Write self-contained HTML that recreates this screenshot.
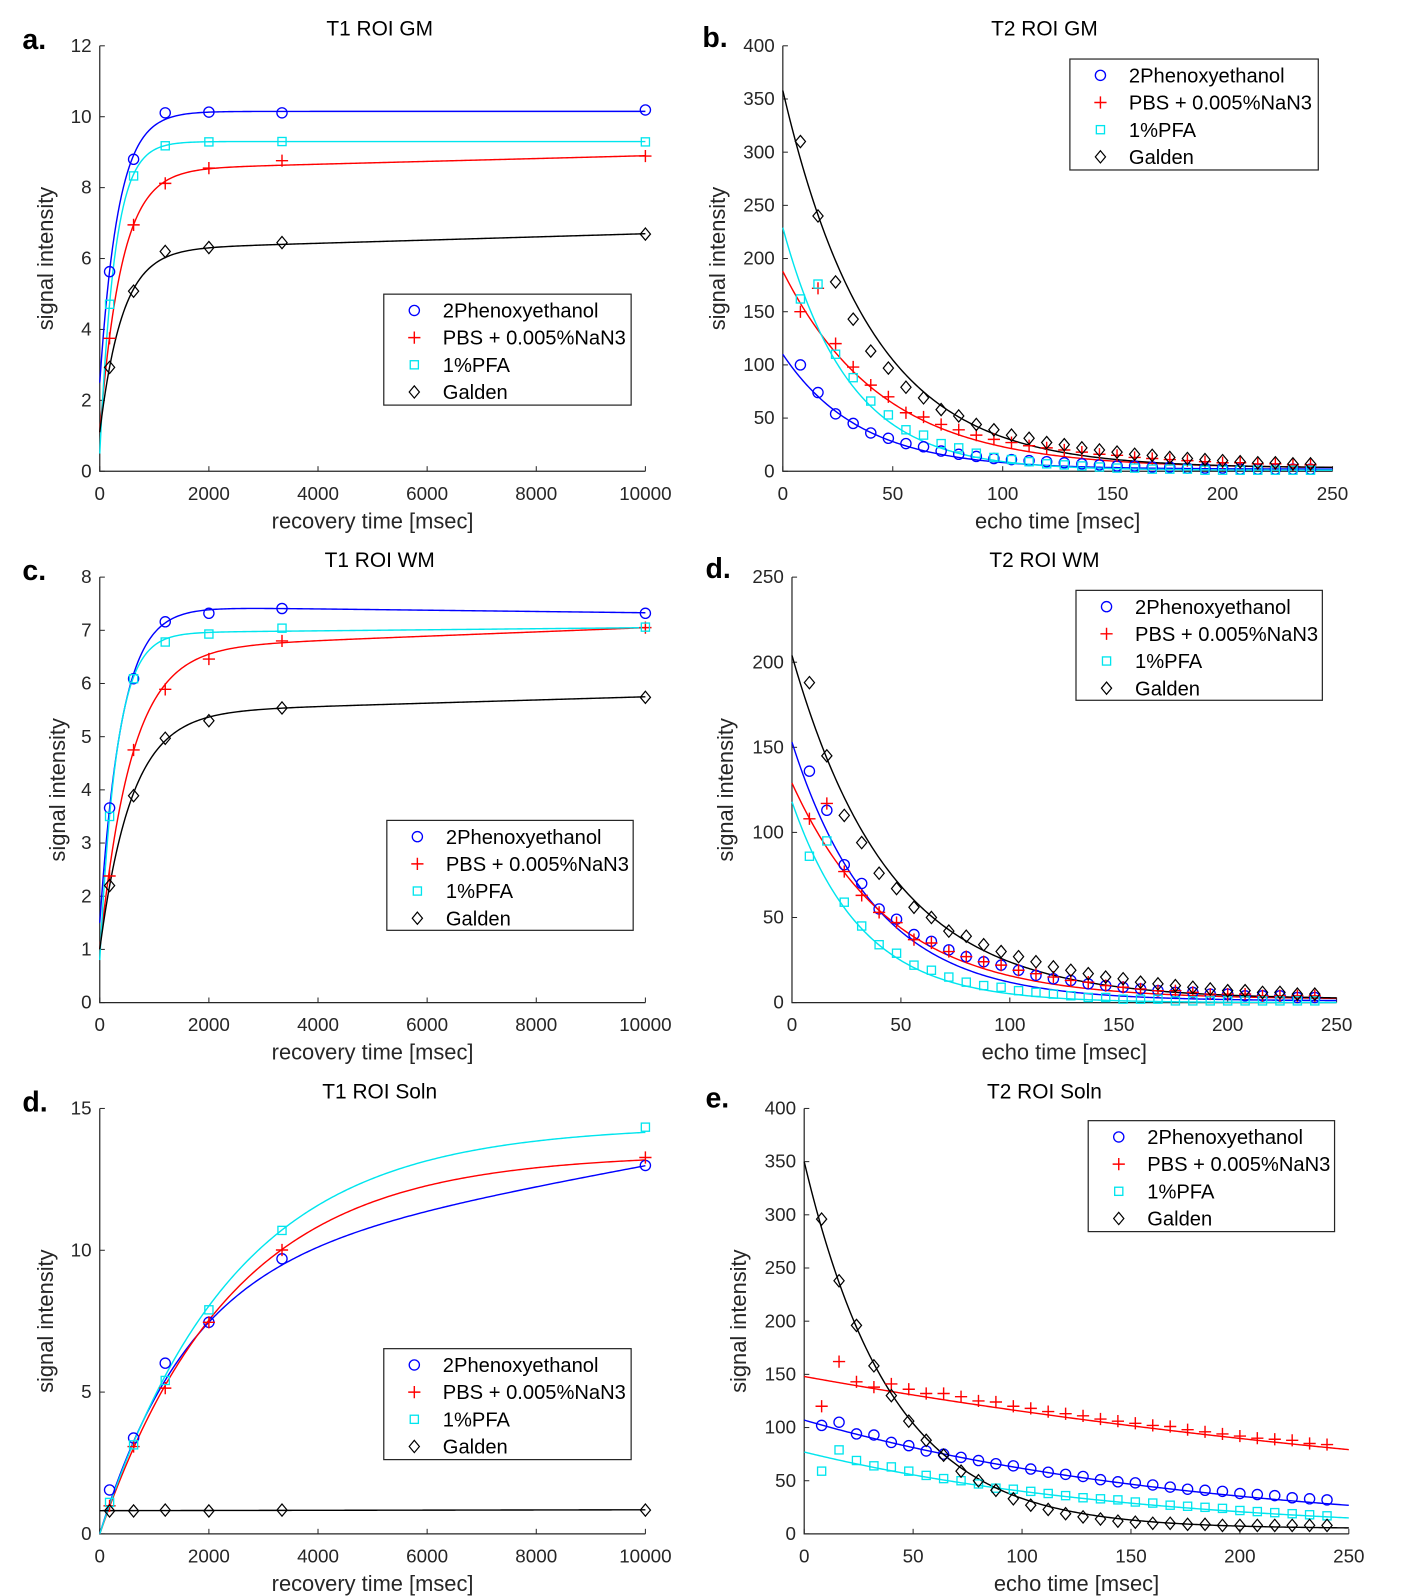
<!DOCTYPE html>
<html><head><meta charset="utf-8">
<style>
html,body{margin:0;padding:0;background:#fff;}
svg{display:block;}
text{font-family:"Liberation Sans",Arial,sans-serif;fill:#262626;}
.ttl{font-size:20.5px;fill:#000;}
.lab{font-size:21.5px;}
.tk{font-size:18.5px;}
.lg{font-size:19.8px;fill:#000;}
.pl{font-size:28px;font-weight:bold;fill:#000;}
</style></head>
<body>
<svg id="fig" xmlns="http://www.w3.org/2000/svg" width="1416" height="1596" viewBox="0 0 1391 1568" preserveAspectRatio="none"></svg>
<script>
// ===== data =====
const seriesNames = ["2Phenoxyethanol","PBS + 0.005%NaN3","1%PFA","Galden"];
const recoveryTimes = [180,620,1200,2000,3340,10000];
const echoTimes = [8,16,24,32,40,48,56,64,72,80,88,96,104,112,120,128,136,144,152,160,168,176,184,192,200,208,216,224,232,240];

const gmT1Blue  = [5.63,8.80,10.11,10.13,10.11,10.19];
const gmT1Red   = [3.75,6.95,8.12,8.55,8.76,8.89];
const gmT1Cyan  = [4.71,8.33,9.18,9.29,9.30,9.29];
const gmT1Black = [2.93,5.08,6.20,6.31,6.45,6.69];

const wmT1Blue  = [3.66,6.09,7.16,7.32,7.41,7.32];
const wmT1Red   = [2.38,4.75,5.89,6.46,6.80,7.05];
const wmT1Cyan  = [3.50,6.09,6.78,6.93,7.04,7.06];
const wmT1Black = [2.20,3.89,4.97,5.30,5.54,5.74];

const solnT1Blue  = [1.55,3.38,6.02,7.46,9.70,12.99];
const solnT1Red   = [0.99,3.08,5.14,7.46,10.01,13.27];
const solnT1Cyan  = [1.11,3.14,5.41,7.90,10.70,14.34];
const solnT1Black = [0.81,0.81,0.84,0.81,0.84,0.84];

const gmT2Blue  = [100,74,54,45,36,31,26,23,19,16,14,12,11,10,9,8,7,6,5,5,4,4,3,3,3,2,2,2,2,2];
const gmT2Red   = [150,172,120,98,81,70,55,51,44,39,34,30,27,24,22,20,18,16,15,13,12,11,10,9,8,8,7,7,6,6];
const gmT2Cyan  = [162,176,110,88,66,53,39,34,26,22,17,13,11,9,7,6,5,4,3,3,2,2,2,1,1,1,1,1,1,1];
const gmT2Black = [310,240,178,143,113,97,79,69,58,52,44,39,34,31,27,25,22,20,18,16,15,13,12,11,10,9,8,8,7,7];

const wmT2Blue  = [136,113,81,70,55,49,40,36,31,27,24,22,19,16,14,13,11,10,9,8,7,6,6,5,5,4,4,4,3,3];
const wmT2Red   = [108,117,77,63,53,47,37,35,30,27,24,22,19,17,15,13,12,10,9,8,7,7,6,5,5,5,4,4,4,4];
const wmT2Cyan  = [86,95,59,45,34,29,22,19,15,12,10,9,7,6,5,4,3,3,2,2,2,1,1,1,1,1,1,1,1,1];
const wmT2Black = [188,145,110,94,76,67,56,50,42,39,34,30,27,24,21,19,17,15,14,12,11,10,9,8,7,7,6,6,5,5];

const solnT2Blue  = [102,105,94,93,86,83,78,75,72,69,66,64,61,58,56,54,51,49,48,46,44,42,41,40,38,37,36,34,33,32];
const solnT2Red   = [120,162,143,138,141,136,132,132,129,125,124,120,118,115,113,111,108,106,104,102,101,98,96,94,92,90,89,88,85,84];
const solnT2Cyan  = [59,79,69,64,63,59,55,52,50,47,43,42,40,38,36,34,33,32,30,29,27,26,25,24,22,21,20,19,18,17];
const solnT2Black = [296,238,196,158,130,106,88,74,59,50,41,33,27,23,19,16,14,12,11,10,10,9,9,8,8,8,8,8,8,8];

// fit parameters T1: [A, B, T1, slope]  S = A - B*exp(-t/T1) + slope*t
const gmT1Fit   = [[10.15,7.65,340,0],[8.5,7.4,400,0.00004],[9.3,8.8,275,0],[6.25,5.15,410,0.000045]];
const wmT1Fit   = [[7.45,5.95,400,-0.000012],[6.65,5.65,580,0.00004],[6.95,6.15,310,0.00001],[5.45,4.45,580,0.00003]];
const solnT1Fit = [[9.5,9.5,1607,0.00035],[13.4,13.4,2420,0],[14.4,14.4,2450,0],[0.82,0,1000,0.000003]];
// fit parameters T2: [A, T2, offset]  S = A*exp(-t/T2) + offset
const gmT2Fit   = [[108,35,2],[185,45,3],[228,30,1],[355,40,3]];
const wmT2Fit   = [[152,38,1],[127,45,2],[118,32,0],[202,45,2]];
const solnT2Fit = [[107,181,0],[148,400,0],[77,153,0],[345,40,5]];

const t1XTicks = [0,2000,4000,6000,8000,10000];
const t2XTicks = [0,50,100,150,200,250];
const gmT1YTicks = [0,2,4,6,8,10,12];
const wmT1YTicks = [0,1,2,3,4,5,6,7,8];
const solnT1YTicks = [0,5,10,15];
const t2YTicks400 = [0,50,100,150,200,250,300,350,400];
const t2YTicks250 = [0,50,100,150,200,250];

// ===== layout =====
const colors = ["#0000ff","#ff0000","#00e5ee","#000000"];
const markers = ["circle","plus","square","diamond"];
const NS = "http://www.w3.org/2000/svg";
const svg = document.getElementById("fig");
function el(tag, attrs, parent){
  const e = document.createElementNS(NS, tag);
  for (const k in attrs) e.setAttribute(k, attrs[k]);
  (parent||svg).appendChild(e);
  return e;
}
function txt(s, attrs, parent){ const e = el("text", attrs, parent); e.textContent = s; return e; }

const panels = [
 {id:"t1-gm", letter:"a.", lx:22, ly:48, title:"T1 ROI GM", tx:373, ty:35, L:98,R:634,T:45,B:463, xmax:10000, ymax:12, xt:t1XTicks, yt:gmT1YTicks, xs:recoveryTimes, data:[gmT1Blue,gmT1Red,gmT1Cyan,gmT1Black], fit:gmT1Fit, kind:1, xlabel:"recovery time [msec]", ylx:52, leg:[377,289,243,109]},
 {id:"t2-gm", letter:"b.", lx:690, ly:46, title:"T2 ROI GM", tx:1026, ty:35, L:769,R:1309,T:45,B:463, xmax:250, ymax:400, xt:t2XTicks, yt:t2YTicks400, xs:echoTimes, data:[gmT2Blue,gmT2Red,gmT2Cyan,gmT2Black], fit:gmT2Fit, kind:2, xlabel:"echo time [msec]", ylx:712, leg:[1051,58,244,109]},
 {id:"t1-wm", letter:"c.", lx:22, ly:570, title:"T1 ROI WM", tx:373, ty:557, L:98,R:634,T:567,B:985, xmax:10000, ymax:8, xt:t1XTicks, yt:wmT1YTicks, xs:recoveryTimes, data:[wmT1Blue,wmT1Red,wmT1Cyan,wmT1Black], fit:wmT1Fit, kind:1, xlabel:"recovery time [msec]", ylx:64, leg:[380,806,242,108]},
 {id:"t2-wm", letter:"d.", lx:693, ly:568, title:"T2 ROI WM", tx:1026, ty:557, L:778,R:1313,T:567,B:985, xmax:250, ymax:250, xt:t2XTicks, yt:t2YTicks250, xs:echoTimes, data:[wmT2Blue,wmT2Red,wmT2Cyan,wmT2Black], fit:wmT2Fit, kind:2, xlabel:"echo time [msec]", ylx:720, leg:[1057,580,242,108]},
 {id:"t1-soln", letter:"d.", lx:22, ly:1092, title:"T1 ROI Soln", tx:373, ty:1079, L:98,R:634,T:1089,B:1507, xmax:10000, ymax:15, xt:t1XTicks, yt:solnT1YTicks, xs:recoveryTimes, data:[solnT1Blue,solnT1Red,solnT1Cyan,solnT1Black], fit:solnT1Fit, kind:1, xlabel:"recovery time [msec]", ylx:52, leg:[377,1325,243,109]},
 {id:"t2-soln", letter:"e.", lx:693, ly:1088, title:"T2 ROI Soln", tx:1026, ty:1079, L:790,R:1325,T:1089,B:1507, xmax:250, ymax:400, xt:t2XTicks, yt:t2YTicks400, xs:echoTimes, data:[solnT2Blue,solnT2Red,solnT2Cyan,solnT2Black], fit:solnT2Fit, kind:2, xlabel:"echo time [msec]", ylx:733, leg:[1069,1101,242,109]}
];

function drawMarker(g, type, x, y, c, name){
  let m;
  if (type==="circle") m = el("circle",{cx:x,cy:y,r:5,fill:"none",stroke:c,"stroke-width":1.3},g);
  else if (type==="square") m = el("rect",{x:x-4,y:y-4,width:8,height:8,fill:"none",stroke:c,"stroke-width":1.3},g);
  else if (type==="diamond") m = el("path",{d:`M${x} ${y-6}L${x+5} ${y}L${x} ${y+6}L${x-5} ${y}Z`,fill:"none",stroke:c,"stroke-width":1.2},g);
  else m = el("path",{d:`M${x-6} ${y}H${x+6}M${x} ${y-6}V${y+6}`,fill:"none",stroke:c,"stroke-width":1.4},g);
  
  
  return m;
}

panels.forEach(p=>{
  const g = el("g",{});
  
  
  const sx = v => p.L + (v/p.xmax)*(p.R-p.L);
  const sy = v => p.B - (v/p.ymax)*(p.B-p.T);

  const pl = txt(p.letter,{x:p.lx,y:p.ly,class:"pl"},g);
  
  
  const tt = txt(p.title,{x:p.tx,y:p.ty,class:"ttl","text-anchor":"middle"},g);
  
  

  const ax = el("path",{d:`M${p.L} ${p.T}V${p.B}H${p.R}`,fill:"none",stroke:"#262626","stroke-width":1.2},g);
  
  

  p.xt.forEach(v=>{
    const x = sx(v);
    el("line",{x1:x,y1:p.B,x2:x,y2:p.B-5,stroke:"#262626","stroke-width":1},g);
    const t = txt(String(v),{x:x,y:p.B+28,class:"tk","text-anchor":"middle"},g);
    
    
  });
  p.yt.forEach(v=>{
    const y = sy(v);
    el("line",{x1:p.L,y1:y,x2:p.L+5,y2:y,stroke:"#262626","stroke-width":1},g);
    const t = txt(String(v),{x:p.L-8,y:y+6,class:"tk","text-anchor":"end"},g);
    
    
  });
  const xl = txt(p.xlabel,{x:(p.L+p.R)/2,y:p.B+56,class:"lab","text-anchor":"middle"},g);
  
  
  const cy = (p.T+p.B)/2;
  const yl = txt("signal intensity",{x:p.ylx,y:cy,class:"lab","text-anchor":"middle",transform:`rotate(-90 ${p.ylx} ${cy})`},g);
  
  

  p.fit.forEach((f,i)=>{
    let d="";
    for(let k=0;k<=300;k++){
      const t = p.xmax*k/300;
      let v = p.kind===1 ? f[0]-f[1]*Math.exp(-t/f[2])+f[3]*t : f[0]*Math.exp(-t/f[1])+f[2];
      v = Math.max(v, 0);
      d += (k?"L":"M")+sx(t).toFixed(2)+" "+sy(v).toFixed(2);
    }
    const c = el("path",{d:d,fill:"none",stroke:colors[i],"stroke-width":1.4},g);
    
    
  });
  p.data.forEach((arr,i)=>{
    arr.forEach((v,j)=>{
      drawMarker(g, markers[i], sx(p.xs[j]), sy(v), colors[i], 'data-point');
    });
  });

  const [lx,ly,lw,lh] = p.leg;
  const lg = el("g",{},g);
  
  
  el("rect",{x:lx,y:ly,width:lw,height:lh,fill:"#fff",stroke:"#262626","stroke-width":1.2},lg);
  seriesNames.forEach((n,i)=>{
    const yy = ly + 16 + i*26.7;
    drawMarker(lg, markers[i], lx+30, yy, colors[i], 'legend-marker');
    const t = txt(n,{x:lx+58,y:yy+7,class:"lg"},lg);
    
    
  });
});
</script>
</body></html>
